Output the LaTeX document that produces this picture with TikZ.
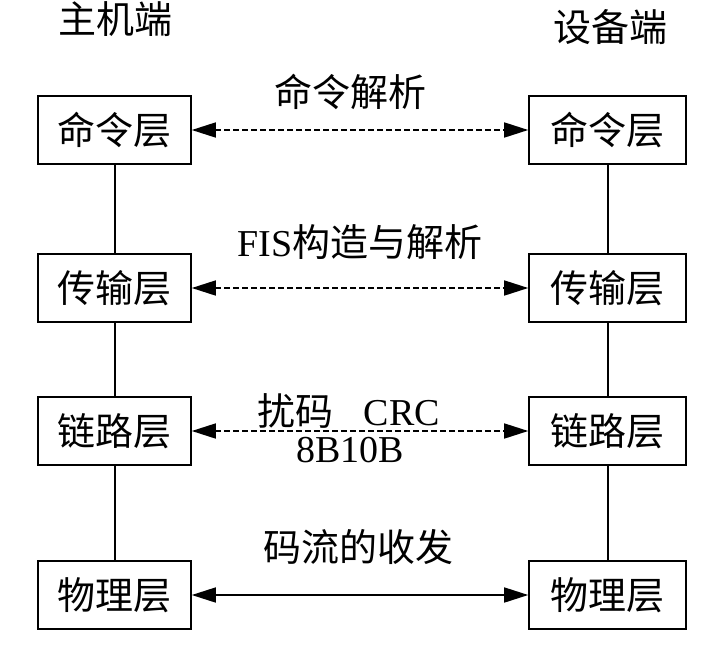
\documentclass[tikz,border=0pt]{standalone}
\usepackage{fontspec}
\setmainfont{Liberation Serif}
\newfontfamily\cjk{Noto Sans CJK SC}
\usetikzlibrary{arrows.meta}
\begin{document}
\begin{tikzpicture}[x=1pt,y=-1pt,
  layerL/.style={draw,line width=1.6pt,minimum width=153pt,minimum height=68pt,inner sep=0pt,font=\fontsize{38}{44}\selectfont\cjk},
  layerR/.style={layerL,minimum width=157pt},
  lbl/.style={font=\fontsize{38}{44}\selectfont,inner sep=0pt},
  vline/.style={line width=2pt},
  dlink/.style={line width=1.6pt,dash pattern=on 6pt off 3pt,{Triangle[length=24pt,width=15pt]}-{Triangle[length=24pt,width=15pt]}},
  slink/.style={line width=1.6pt,{Triangle[length=24pt,width=15pt]}-{Triangle[length=24pt,width=15pt]}}]
\useasboundingbox (0,0) rectangle (712,646);
\node[lbl] (host) at (115,19) {\cjk 主机端};
\node[lbl] (dev) at (610,27) {\cjk 设备端};

\node[layerL] (c1) at (114.5,130) {命令层};
\node[layerL] (t1) at (114.5,288) {传输层};
\node[layerL] (l1) at (114.5,431) {链路层};
\node[layerL] (p1) at (114.5,595) {物理层};

\node[layerR] (c2) at (607.5,130) {命令层};
\node[layerR] (t2) at (607.5,288) {传输层};
\node[layerR] (l2) at (607.5,431) {链路层};
\node[layerR] (p2) at (607.5,595) {物理层};

\draw[vline] (c1) -- (t1) (t1) -- (l1) (l1) -- (p1);
\draw[vline] (c2) -- (t2) (t2) -- (l2) (l2) -- (p2);

\draw[dlink] (c1.east) -- (c2.west);
\draw[dlink] (t1.east) -- (t2.west);
\draw[dlink] (l1.east) -- (l2.west);
\draw[slink] (p1.east) -- (p2.west);

\node[lbl] (a1) at (350,92) {\cjk 命令解析};
\node[lbl] (a2) at (360,242) {FIS{\cjk 构造与解析}};
\node[lbl] (a3) at (349,411) {{\cjk 扰码}\hspace{30pt}CRC};
\node[lbl] (a4) at (350,450) {8B10B};
\node[lbl] (a5) at (358,547) {\cjk 码流的收发};
\end{tikzpicture}
\end{document}
